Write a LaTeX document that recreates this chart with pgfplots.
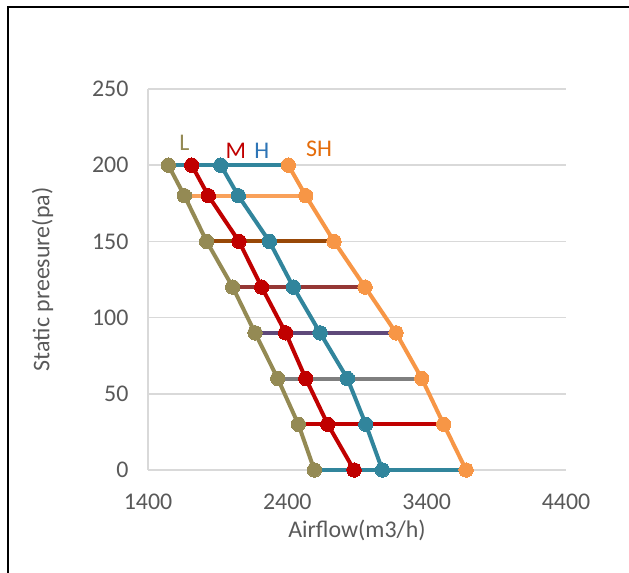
\documentclass[border=0pt]{standalone}
\usepackage{pgfplots}
\pgfplotsset{compat=1.18}
\usepackage{fontspec}
\setmainfont{Carlito}
\definecolor{cL}{HTML}{948A54}
\definecolor{cM}{HTML}{C00000}
\definecolor{cH}{HTML}{31859C}
\definecolor{cSH}{HTML}{F79646}
\definecolor{cSHl}{HTML}{F9A15A}
\definecolor{cBrown}{HTML}{984807}
\definecolor{cDred}{HTML}{953735}
\definecolor{cPurple}{HTML}{5F497A}
\definecolor{cGray}{HTML}{7F7F7F}
\definecolor{txt}{HTML}{595959}
\definecolor{grid}{HTML}{D9D9D9}
\definecolor{labH}{HTML}{2E75B6}
\definecolor{labSH}{HTML}{E46C0A}
\begin{document}
\begin{tikzpicture}[x=1bp,y=1bp]
\useasboundingbox (0,0) rectangle (629,573);
\draw[black,line width=2.5bp] (8,0) -- (8,566) -- (629,566);
\begin{axis}[
  at={(148bp,103bp)}, anchor=south west,
  scale only axis, width=418bp, height=381bp,
  xmin=1400, xmax=4400, ymin=0, ymax=250,
  xtick={1400,2400,3400,4400}, ytick={0,50,100,150,200,250},
  axis lines=left, axis line style={-, draw=grid, line width=1.6bp},
  ymajorgrids, grid style={draw=grid, line width=1.6bp},
  major tick length=0pt,
  tick label style={font=\fontsize{24}{28}\selectfont, text=txt},
  /pgf/number format/assume math mode=true,
  /pgf/number format/set thousands separator={},
  yticklabel style={xshift=-16bp},
  xticklabel style={yshift=-20bp},
  xlabel={Airflow(m3/h)}, ylabel={Static preesure(pa)},
  label style={font=\fontsize{24}{28}\selectfont, text=txt},
  xlabel style={yshift=-4bp},
  ylabel style={yshift=32bp},
  clip=false,
  every axis plot/.append style={line width=4bp},
]
% horizontal lines per pressure level
\addplot[cH, no marks] coordinates {(1546,200) (2407,200)};
\addplot[cSHl, no marks] coordinates {(1661,180) (2532,180)};
\addplot[cBrown, no marks] coordinates {(1821,150) (2735,150)};
\addplot[cDred, no marks] coordinates {(2008,120) (2958,120)};
\addplot[cPurple, no marks] coordinates {(2168,90) (3180,90)};
\addplot[cGray, no marks] coordinates {(2331,60) (3365,60)};
\addplot[cM, no marks] coordinates {(2479,30) (3522,30)};
\addplot[cH, no marks] coordinates {(2594,0) (3683,0)};
% fan curves
\addplot[cL, mark=*, mark size=7.2bp, mark options={fill=cL, draw=cL, line width=0pt}] coordinates {
(1546,200) (1661,180) (1821,150) (2008,120) (2168,90) (2331,60) (2479,30) (2594,0)};
\addplot[cM, mark=*, mark size=7.2bp, mark options={fill=cM, draw=cM, line width=0pt}] coordinates {
(1714,200) (1833,180) (2053,150) (2216,120) (2388,90) (2532,60) (2690,30) (2879,0)};
\addplot[cH, mark=*, mark size=7.2bp, mark options={fill=cH, draw=cH, line width=0pt}] coordinates {
(1922,200) (2048,180) (2271,150) (2443,120) (2635,90) (2831,60) (2963,30) (3082,0)};
\addplot[cSH, mark=*, mark size=7.2bp, mark options={fill=cSH, draw=cSH, line width=0pt}] coordinates {
(2407,200) (2532,180) (2735,150) (2958,120) (3180,90) (3365,60) (3522,30) (3683,0)};
\node[text=cL, font=\fontsize{24}{28}\selectfont] at (axis cs:1661,214.4) {L};
\node[text=cM, font=\fontsize{24}{28}\selectfont] at (axis cs:2030,209.5) {M};
\node[text=labH, font=\fontsize{24}{28}\selectfont] at (axis cs:2216,209.5) {H};
\node[text=labSH, font=\fontsize{24}{28}\selectfont] at (axis cs:2627,211) {SH};
\end{axis}
\end{tikzpicture}
\end{document}
